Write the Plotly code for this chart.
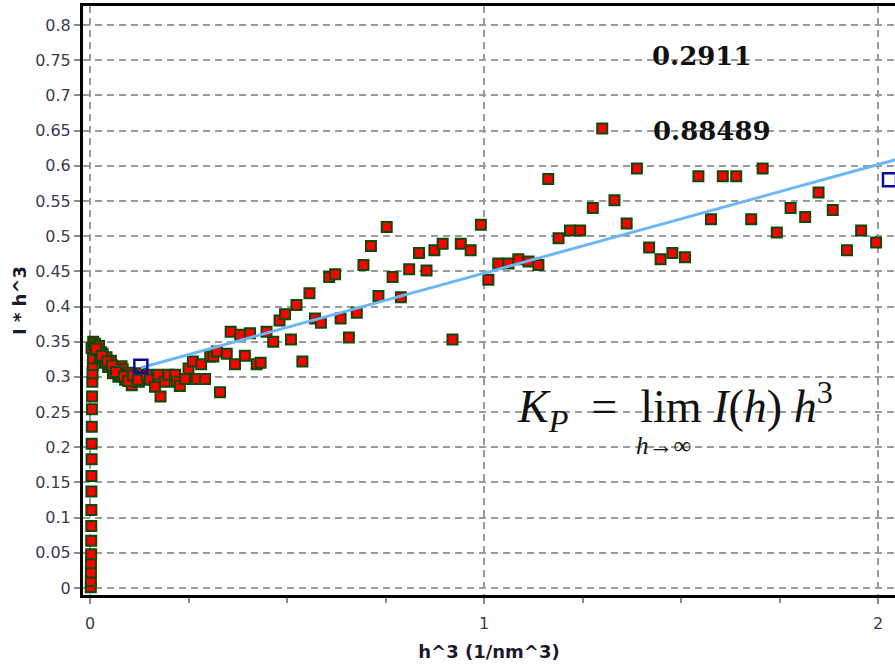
import plotly.graph_objects as go

# ---- data ----
h3 = [0.0020, 0.0022, 0.0024, 0.0026, 0.0028, 0.0030, 0.0032, 0.0034, 0.0036, 0.0038,
      0.0040, 0.0042, 0.0045, 0.0048, 0.0052, 0.0058, 0.0064, 0.0070, 0.0076,
      0.004, 0.008, 0.011, 0.013, 0.017, 0.020, 0.023, 0.025, 0.028, 0.032, 0.035,
      0.038, 0.042, 0.046, 0.050, 0.053, 0.058, 0.062, 0.068, 0.072, 0.076, 0.080,
      0.083, 0.089, 0.094, 0.100, 0.106, 0.112, 0.118, 0.124, 0.130,
      0.015, 0.030, 0.044, 0.056, 0.066, 0.086, 0.097, 0.109, 0.121,
      0.144, 0.152, 0.165, 0.173, 0.179, 0.190, 0.199, 0.216, 0.220, 0.228,
      0.241, 0.250, 0.261, 0.271, 0.282, 0.292, 0.305, 0.313, 0.322, 0.330,
      0.347, 0.357, 0.368, 0.381, 0.393, 0.406, 0.423, 0.433, 0.448, 0.465,
      0.481, 0.495, 0.510, 0.524, 0.539, 0.557, 0.571, 0.586, 0.607, 0.622,
      0.636, 0.657, 0.677, 0.694, 0.713, 0.732, 0.753, 0.768, 0.789, 0.810,
      0.835, 0.854, 0.874, 0.895, 0.920, 0.941, 0.966, 0.992, 1.011, 1.036,
      1.062, 1.087, 1.113, 1.138, 1.163, 1.189, 1.218, 1.244, 1.276, 1.300,
      1.331, 1.362, 1.388, 1.419, 1.448, 1.478, 1.510, 1.544, 1.576, 1.606,
      1.640, 1.678, 1.707, 1.743, 1.778, 1.815, 1.849, 1.885, 1.921, 1.957, 1.995]
ih3 = [0.001, 0.010, 0.022, 0.035, 0.048, 0.067, 0.088, 0.111, 0.137, 0.159,
       0.183, 0.205, 0.229, 0.254, 0.272, 0.293, 0.305, 0.317, 0.326,
       0.341, 0.350, 0.345, 0.347, 0.338, 0.343, 0.344, 0.327, 0.335, 0.333, 0.325,
       0.320, 0.328, 0.314, 0.318, 0.323, 0.305, 0.312, 0.310, 0.300, 0.303, 0.315,
       0.311, 0.296, 0.305, 0.306, 0.288, 0.300, 0.298, 0.293, 0.305,
       0.340, 0.330, 0.322, 0.316, 0.307, 0.301, 0.294, 0.302, 0.296,
       0.303, 0.296, 0.286, 0.303, 0.272, 0.293, 0.303, 0.303, 0.293, 0.287,
       0.297, 0.312, 0.322, 0.297, 0.318, 0.297, 0.329, 0.329, 0.336, 0.278,
       0.333, 0.364, 0.318, 0.360, 0.330, 0.362, 0.318, 0.320, 0.364, 0.350,
       0.380, 0.389, 0.353, 0.402, 0.322, 0.419, 0.383, 0.377, 0.442, 0.446,
       0.383, 0.356, 0.391, 0.459, 0.486, 0.415, 0.513, 0.442, 0.413, 0.453,
       0.476, 0.451, 0.480, 0.489, 0.353, 0.489, 0.480, 0.516, 0.438, 0.461,
       0.461, 0.467, 0.464, 0.459, 0.581, 0.497, 0.508, 0.508, 0.540, 0.653,
       0.551, 0.518, 0.596, 0.484, 0.467, 0.476, 0.470, 0.585, 0.524, 0.585,
       0.585, 0.524, 0.596, 0.505, 0.540, 0.527, 0.562, 0.537, 0.480, 0.508, 0.491]

fit_x = [0.129, 2.06]
fit_y = [0.313, 0.611]
range_x = [0.129, 2.029]
range_y = [0.315, 0.580]

x_ticks = [0, 1, 2]
y_ticks = [round(0.05 * i, 2) for i in range(17)]

label_kp = "0.2911"
label_r = "0.88489"

fig = go.Figure()
fig.add_trace(go.Scatter(
    x=h3, y=ih3, mode="markers",
    marker=dict(symbol="square", size=10, color="#ff0000",
                line=dict(color="#0b4a0b", width=2)),
    showlegend=False, hoverinfo="skip"))
fig.add_trace(go.Scatter(
    x=fit_x, y=fit_y, mode="lines",
    line=dict(color="#6cb6f8", width=3), showlegend=False, hoverinfo="skip"))
fig.add_trace(go.Scatter(
    x=range_x, y=range_y, mode="markers",
    marker=dict(symbol="square-open", size=13, color="#0a0a9a",
                line=dict(color="#0a0a9a", width=2.5)),
    showlegend=False, hoverinfo="skip"))

tick_font = dict(family="DejaVu Sans", size=16, color="#3a3a50")
title_font = dict(family="DejaVu Sans", size=18, color="#1a1a2a")

fig.update_layout(
    width=895, height=665,
    margin=dict(l=83, r=0, t=6, b=70),
    paper_bgcolor="white", plot_bgcolor="white",
    xaxis=dict(
        range=[-0.0178, 2.043], tickvals=x_ticks, ticktext=[str(v) for v in x_ticks],
        showline=True, linecolor="black", linewidth=3, mirror=True,
        ticks="outside", ticklen=6, tickwidth=1.5, tickcolor="#888888",
        minor=dict(dtick=0.25, ticks="outside", ticklen=5, tickcolor="#888888", tickwidth=1.5, showgrid=False),
        showgrid=True, gridcolor="#9a9a9a", gridwidth=1.5, griddash="7px,5px",
        zeroline=False, tickfont=tick_font, ticklabelstandoff=6,
        title=dict(text="<b>h^3 (1/nm^3)</b>", font=title_font, standoff=14),
        automargin=False,
    ),
    yaxis=dict(
        range=[-0.00995, 0.827], tickvals=y_ticks, ticktext=[f"{v:g}" for v in y_ticks],
        showline=True, linecolor="black", linewidth=3, mirror=False,
        ticks="outside", ticklen=6, tickwidth=1.5, tickcolor="#888888",
        showgrid=True, gridcolor="#9a9a9a", gridwidth=1.5, griddash="7px,5px",
        zeroline=False, tickfont=tick_font,
        title=dict(text="<b>I * h^3</b>", font=title_font, standoff=4),
        automargin=False,
    ),
    annotations=[
        dict(x=1.553, y=0.756, xref="x", yref="y", text=f"<b>{label_kp}</b>", showarrow=False,
             font=dict(family="DejaVu Serif", size=26, color="#111111")),
        dict(x=1.579, y=0.649, xref="x", yref="y", text=f"<b>{label_r}</b>", showarrow=False,
             font=dict(family="DejaVu Serif", size=26, color="#111111")),
        dict(x=1.079, y=0.258, xref="x", yref="y", xanchor="left",
             text="<i>K</i><sub><i>P</i></sub>  =  lim <i>I</i>(<i>h</i>) <i>h</i><sup>3</sup>",
             showarrow=False, font=dict(family="Liberation Serif", size=46, color="#111111")),
        dict(x=1.455, y=0.203, xref="x", yref="y",
             text="<i>h</i>→∞", showarrow=False,
             font=dict(family="Liberation Serif", size=25, color="#111111")),
    ],
)

fig.write_html("out.html")
